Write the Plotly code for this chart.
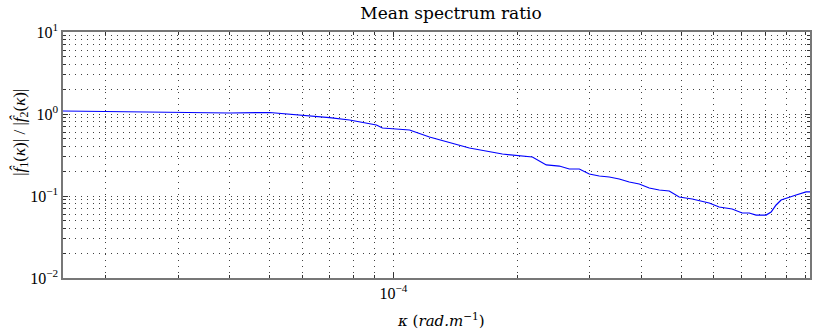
import plotly.graph_objects as go

# wavenumber (rad/m) and mean spectrum ratio
kappa = [1.573e-5, 1.933e-5, 2.859e-5, 4.0e-5, 5.0e-5, 6.01e-5, 6.99e-5, 7.82e-5,
         9.09e-5, 9.40e-5, 1.094e-4, 1.223e-4, 1.529e-4, 1.839e-4, 2.175e-4,
         2.351e-4, 2.529e-4, 2.674e-4, 2.828e-4, 2.990e-4, 3.162e-4, 3.344e-4,
         3.536e-4, 3.740e-4, 3.955e-4, 4.182e-4, 4.422e-4, 4.677e-4, 4.945e-4,
         5.318e-4, 5.848e-4, 6.184e-4, 6.650e-4, 7.033e-4, 7.314e-4, 7.605e-4,
         8.04e-4, 8.27e-4, 8.505e-4, 8.745e-4, 9.145e-4, 9.51e-4, 1.0055e-3, 1.028e-3]
ratio = [1.088, 1.079, 1.043, 1.028, 1.043, 0.972, 0.901, 0.845,
         0.734, 0.675, 0.638, 0.524, 0.385, 0.325, 0.299,
         0.239, 0.232, 0.2135, 0.2135, 0.1855, 0.1754, 0.1706,
         0.1612, 0.148, 0.140, 0.1252, 0.1183, 0.115, 0.0972,
         0.0919, 0.0821, 0.0734, 0.0694, 0.0620, 0.0620, 0.0586,
         0.0586, 0.0638, 0.0777, 0.0894, 0.0972, 0.1028, 0.112, 0.112]

x_major = [1e-4]
x_major_text = ['10<sup>−4</sup>']
x_minor = [m * 10.0 ** e for e in (-5, -4) for m in range(2, 10)] + [1e-3]
y_major = [1e-2, 1e-1, 1, 10]
y_major_text = ['10<sup>−2</sup>', '10<sup>−1</sup>', '10<sup>0</sup>', '10<sup>1</sup>']
y_minor = [m * 10.0 ** e for e in (-2, -1, 0) for m in range(2, 10)]

serif = 'Liberation Serif'
wide_serif = 'DejaVu Serif'
gridc = 'rgba(0,0,0,0.75)'
dots = '1px,5px'

fig = go.Figure(go.Scatter(
    x=kappa, y=ratio, mode='lines',
    line=dict(color='#0000ff', width=1.2),
    showlegend=False
))

axis_common = dict(
    type='log', showline=True, linecolor='#777', linewidth=1.5, mirror='ticks',
    ticks='inside', ticklen=5, tickcolor='#333', tickwidth=1,
    showgrid=True, gridcolor=gridc, gridwidth=1, griddash=dots,
    zeroline=False, automargin=False,
    tickfont=dict(family=serif, size=16, color='black'),
)
minor_common = dict(tickmode='array', ticks='inside', ticklen=3, tickcolor='#333',
                    showgrid=True, gridcolor=gridc, griddash=dots)

fig.update_layout(
    width=817, height=329,
    margin=dict(l=63, r=7, t=32, b=51, autoexpand=False),
    paper_bgcolor='white', plot_bgcolor='white',
    title=dict(text='Mean spectrum ratio', x=451 / 817, xanchor='center', y=1 - 13 / 329,
               yanchor='middle', font=dict(family=wide_serif, size=17, color='black')),
    xaxis=dict(
        axis_common, range=[-4.803, -2.988],
        tickmode='array', tickvals=x_major, ticktext=x_major_text,
        minor=dict(minor_common, tickvals=x_minor),
    ),
    yaxis=dict(
        axis_common, range=[-2, 1],
        tickmode='array', tickvals=y_major, ticktext=y_major_text,
        minor=dict(minor_common, tickvals=y_minor),
    ),
    annotations=[
        dict(text='<i>κ</i> (<i>rad.m</i><sup>−1</sup>)', xref='paper', yref='paper',
             x=0.506, y=-0.171, xanchor='center', yanchor='middle', showarrow=False,
             font=dict(family=wide_serif, size=15, color='black')),
        dict(text='|<i>f\u0302</i><sub>1</sub>(<i>κ</i>)| / |<i>f\u0302</i><sub>2</sub>(<i>κ</i>)|',
             xref='paper', yref='paper', x=-0.0576, y=0.594, textangle=-90,
             xanchor='center', yanchor='middle', showarrow=False,
             font=dict(family=serif, size=17, color='black')),
    ],
)

# drop the default 8px body margin so the figure sits at the page corner
fig.write_html("out.html", config={'displayModeBar': False},
               post_script="document.body.style.margin='0';")
